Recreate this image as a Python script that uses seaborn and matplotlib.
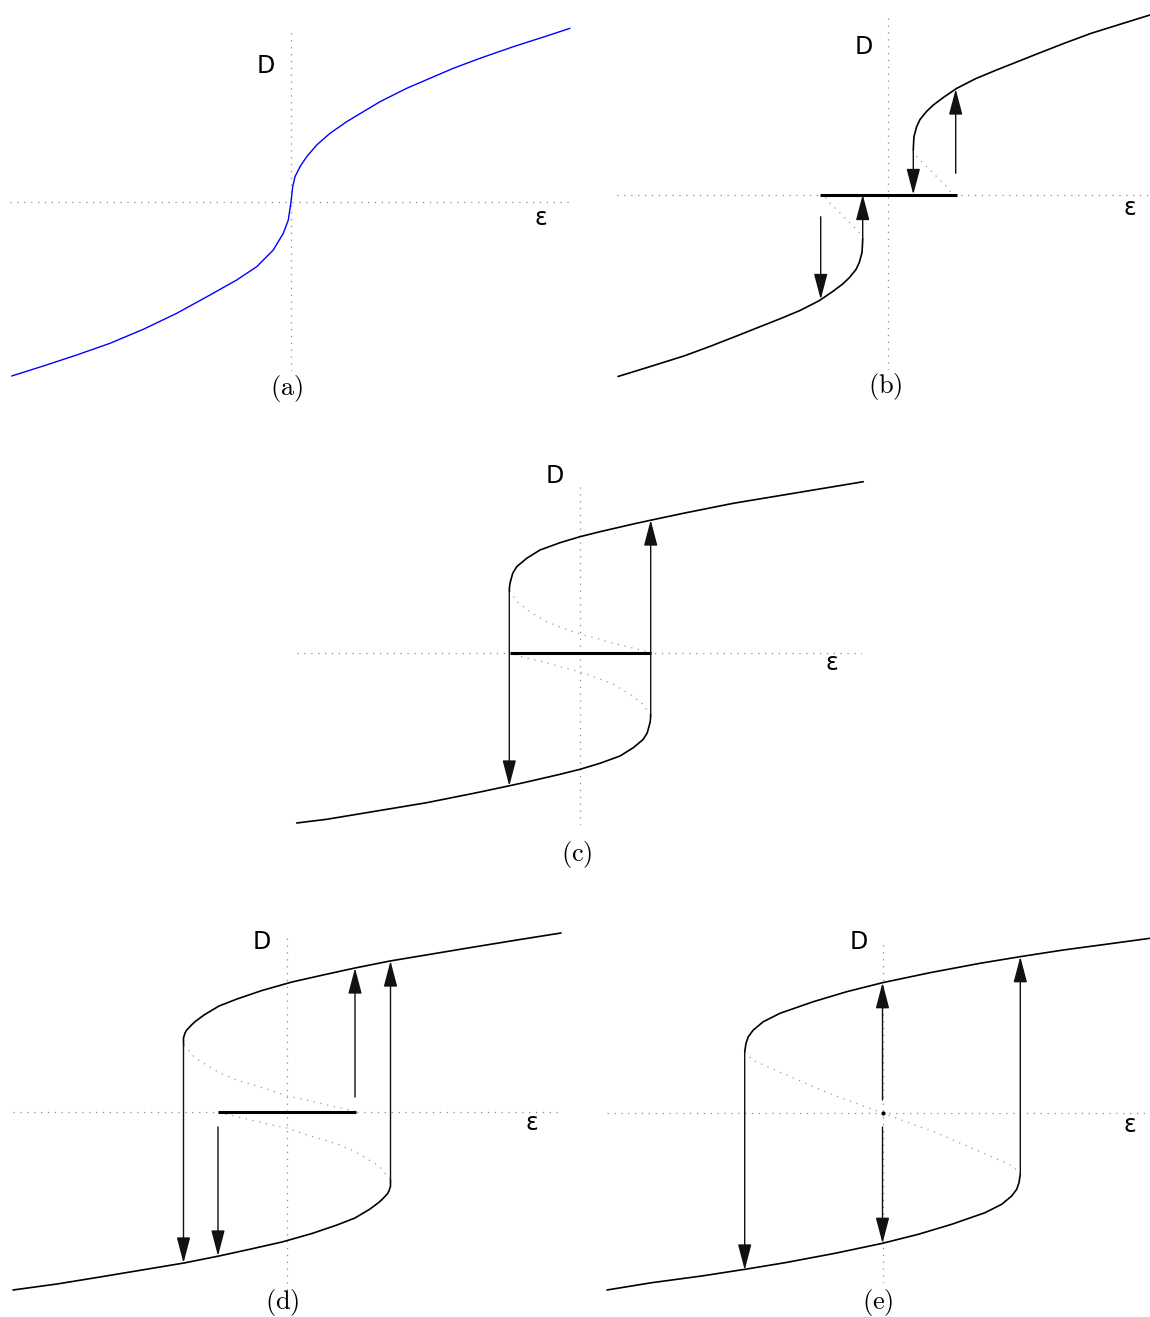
import matplotlib
matplotlib.use("Agg")
import matplotlib.pyplot as plt
import seaborn as sns

# ------------------------------------------------------------
#  values (units: eps and D, origin = axes cross)
# ------------------------------------------------------------

# (a) single valued curve
a_eps = [-2.793, -2.477, -2.143, -1.81, -1.477, -1.143, -0.81, -0.543, -0.343, -0.177, -0.077,
         -0.027, 0.0, 0.017, 0.04, 0.09, 0.157, 0.257, 0.39, 0.557, 0.723, 0.89, 1.157, 1.39,
         1.623, 1.89, 2.223, 2.557, 2.79]
a_D = [-1.74, -1.64, -1.53, -1.413, -1.273, -1.113, -0.93, -0.78, -0.647, -0.48, -0.313,
       -0.18, 0.0, 0.153, 0.253, 0.353, 0.453, 0.57, 0.687, 0.803, 0.903, 1.003, 1.137, 1.237,
       1.337, 1.437, 1.553, 1.66, 1.737]

# (b)
b_up_eps = [0.253, 0.255, 0.26, 0.287, 0.32, 0.387, 0.453, 0.553, 0.688, 0.88, 1.085, 1.30,
            1.506, 1.77, 2.032, 2.33, 2.62]
b_up_D = [0.445, 0.50, 0.58, 0.68, 0.75, 0.832, 0.895, 0.97, 1.062, 1.16, 1.245, 1.33,
          1.412, 1.515, 1.612, 1.705, 1.795]
b_lo_eps = [-0.253, -0.255, -0.26, -0.287, -0.32, -0.387, -0.453, -0.553, -0.688, -0.88, -1.085,
            -1.30, -1.506, -1.77, -2.032, -2.36, -2.70]
b_lo_D = [-0.445, -0.50, -0.58, -0.68, -0.75, -0.832, -0.895, -0.97, -1.062, -1.16, -1.245,
          -1.33, -1.412, -1.515, -1.612, -1.715, -1.82]
b_du_eps = [0.253, 0.287, 0.353, 0.437, 0.52, 0.587, 0.637, 0.66]
b_du_D = [0.445, 0.378, 0.312, 0.228, 0.145, 0.078, 0.012, 0.0]
b_dl_eps = [-0.253, -0.287, -0.353, -0.437, -0.52, -0.587, -0.637, -0.66]
b_dl_D = [-0.445, -0.378, -0.312, -0.228, -0.145, -0.078, -0.012, 0.0]
b_flat = [-0.685, 0.685]
b_arr_eps = [0.253, 0.677, -0.253, -0.673]
b_arr_from = [0.445, 0.212, -0.445, -0.222]
b_arr_to = [0.0, 1.055, 0.0, -1.05]

# (c)
c_up_eps = [-0.707, -0.705, -0.70, -0.673, -0.633, -0.533, -0.40, -0.20, 0.0, 0.20, 0.533,
            0.717, 1.033, 1.533, 2.033, 2.533, 2.833]
c_up_D = [0.62, 0.66, 0.697, 0.797, 0.863, 0.947, 1.03, 1.103, 1.163, 1.213, 1.29,
          1.33, 1.397, 1.497, 1.58, 1.663, 1.713]
c_lo_eps = [0.707, 0.705, 0.70, 0.673, 0.633, 0.533, 0.40, 0.20, 0.0, -0.20, -0.533,
            -0.717, -1.033, -1.533, -2.033, -2.533, -2.833]
c_lo_D = [-0.62, -0.66, -0.697, -0.797, -0.863, -0.947, -1.03, -1.103, -1.163, -1.213, -1.29,
          -1.33, -1.397, -1.497, -1.58, -1.663, -1.70]
c_du_eps = [-0.705, -0.693, -0.633, -0.50, -0.333, -0.167, 0.0, 0.167, 0.333, 0.50, 0.633, 0.705]
c_du_D = [0.62, 0.607, 0.513, 0.413, 0.313, 0.247, 0.19, 0.147, 0.097, 0.057, 0.023, 0.0]
c_dl_eps = [0.705, 0.693, 0.633, 0.50, 0.333, 0.167, 0.0, -0.167, -0.333, -0.50, -0.633, -0.705]
c_dl_D = [-0.62, -0.607, -0.513, -0.413, -0.313, -0.247, -0.19, -0.147, -0.097, -0.057, -0.023, 0.0]
c_flat = [-0.705, 0.705]
c_arr_eps = [-0.707, 0.707]
c_arr_from = [0.62, -0.62]
c_arr_to = [-1.33, 1.33]

# (d)
d_up_eps = [-1.035, -1.035, -1.02, -1.003, -0.96, -0.92, -0.83, -0.68, -0.50, -0.25, 0.05,
            0.36, 0.68, 1.03, 1.45, 1.87, 2.30, 2.74]
d_up_D = [0.68, 0.74, 0.79, 0.82, 0.865, 0.903, 0.97, 1.06, 1.13, 1.215, 1.30,
          1.37, 1.44, 1.51, 1.58, 1.65, 1.72, 1.79]
d_lo_eps = [1.035, 1.035, 1.02, 1.003, 0.96, 0.92, 0.83, 0.68, 0.50, 0.25, -0.05,
            -0.36, -0.68, -1.03, -1.45, -1.87, -2.30, -2.74]
d_lo_D = [-0.68, -0.74, -0.79, -0.82, -0.865, -0.903, -0.97, -1.06, -1.13, -1.215, -1.30,
          -1.37, -1.44, -1.51, -1.58, -1.65, -1.72, -1.78]
d_du_eps = [-1.03, -0.92, -0.67, -0.503, -0.337, -0.17, 0.0, 0.163, 0.33, 0.497, 0.663, 0.685]
d_du_D = [0.67, 0.54, 0.39, 0.32, 0.27, 0.22, 0.16, 0.127, 0.087, 0.047, 0.013, 0.0]
d_dl_eps = [1.03, 0.92, 0.67, 0.503, 0.337, 0.17, 0.0, -0.163, -0.33, -0.497, -0.663, -0.69]
d_dl_D = [-0.67, -0.54, -0.39, -0.32, -0.27, -0.22, -0.16, -0.127, -0.087, -0.047, -0.013, 0.0]
d_flat = [-0.69, 0.685]
d_arr_eps = [-1.035, -0.69, 0.68, 1.035]
d_arr_from = [0.68, -0.15, 0.15, -0.68]
d_arr_to = [-1.51, -1.44, 1.44, 1.51]

# (e)
e_up_eps = [-1.378, -1.375, -1.365, -1.342, -1.292, -1.192, -1.025, -0.692, -0.358, 0.0, 0.475,
            0.975, 1.375, 1.808, 2.308, 2.675]
e_up_D = [0.61, 0.63, 0.697, 0.763, 0.83, 0.913, 0.997, 1.113, 1.213, 1.303, 1.403,
          1.497, 1.563, 1.63, 1.697, 1.747]
e_lo_eps = [1.378, 1.375, 1.365, 1.342, 1.292, 1.192, 1.025, 0.692, 0.358, 0.0, -0.475,
            -0.975, -1.375, -1.808, -2.308, -2.755]
e_lo_D = [-0.61, -0.63, -0.697, -0.763, -0.83, -0.913, -0.997, -1.113, -1.213, -1.303, -1.403,
          -1.497, -1.563, -1.63, -1.697, -1.77]
e_dot_eps = [-1.378, -1.30, -1.075, -0.545, 0.0, 0.545, 1.075, 1.30, 1.378]
e_dot_D = [0.61, 0.53, 0.43, 0.20, 0.0, -0.20, -0.43, -0.53, -0.61]
e_arr_eps = [-1.378, 1.378, 0.0, 0.0]
e_arr_from = [0.61, -0.61, 0.13, -0.14]
e_arr_to = [-1.57, 1.563, 1.303, -1.303]

labels = ["(a)", "(b)", "(c)", "(d)", "(e)"]

# ------------------------------------------------------------
#  layout (pixels in the 1150 x 1317 picture)
# ------------------------------------------------------------
W, H = 1150, 1317
# origin x, origin y, left, right, top, bottom of the dotted axes
boxes = {
    "a": (291, 202, 10, 570, 32, 371),
    "b": (888, 194.5, 617, 1150, 15, 370),
    "c": (580, 653, 297, 862, 482, 825),
    "d": (287, 1112, 13, 560, 937, 1290),
    "e": (882.5, 1113, 607, 1150, 940, 1283),
}
# text positions relative to the origin, in pixels (dx, dy down)
d_label_pos = {"a": (-25, -136), "b": (-24, -147), "c": (-25, -177), "d": (-25, -170), "e": (-24, -171)}
e_label_pos = {"a": (250, 16), "b": (242, 13.5), "c": (252, 10), "d": (245, 11), "e": (247, 12)}
tag_pos = {"a": (-4, 186), "b": (-3, 192), "c": (-3, 202), "d": (-5, 191), "e": (-4.5, 190)}

sns.set_style("white")
plt.rcParams["font.family"] = ["DejaVu Sans"]
plt.rcParams["mathtext.fontset"] = "cm"

fig = plt.figure(figsize=(W / 100, H / 100), dpi=100)

AX_STYLE = dict(color="#8c8c8c", lw=0.9, ls=(0, (1, 4.5)))
DOT_STYLE = dict(color="#9a9a9a", lw=0.9, ls=(0, (1, 4.5)))


def make_axes(key):
    ox, oy, left, right, top, bottom = boxes[key]
    ax = fig.add_axes([left / W, 1 - bottom / H, (right - left) / W, (bottom - top) / H])
    ax.set_xlim((left - ox) / 100, (right - ox) / 100)
    ax.set_ylim((oy - bottom) / 100, (oy - top) / 100)
    ax.axis("off")
    ax.axhline(0, **AX_STYLE, zorder=1)
    ax.axvline(0, **AX_STYLE, zorder=1)
    dx, dy = d_label_pos[key]
    ax.text(dx / 100, -dy / 100, "D", fontsize=17, color="black", ha="center", va="center")
    dx, dy = e_label_pos[key]
    ax.text(dx / 100, -dy / 100, "ε", fontsize=17, color="black", ha="center", va="center")
    dx, dy = tag_pos[key]
    ax.text(dx / 100, -dy / 100, r"$\mathrm{" + labels["abcde".index(key)] + "}$",
            fontsize=19, color="black", ha="center", va="center")
    return ax


def curve(ax, x, y, color="black", lw=1.2):
    sns.lineplot(x=x, y=y, sort=False, estimator=None, color=color, lw=lw, ax=ax, legend=False)
    ax.lines[-1].set_clip_on(False)
    ax.lines[-1].set_solid_joinstyle("round")


def dotted(ax, x, y):
    sns.lineplot(x=x, y=y, sort=False, estimator=None, ax=ax, legend=False, **DOT_STYLE)
    ax.lines[-1].set_clip_on(False)


def arrows(ax, eps, frm, to):
    for e, f, t in zip(eps, frm, to):
        ax.annotate("", xy=(e, t), xytext=(e, f), annotation_clip=False,
                    arrowprops=dict(arrowstyle="-|>,head_length=1.6,head_width=0.42",
                                    color="#111111", lw=1.0, shrinkA=0, shrinkB=0,
                                    mutation_scale=10))


def flat(ax, xs):
    ax.plot(xs, [0, 0], color="black", lw=2.2, solid_capstyle="butt", zorder=4)


# (a)
ax = make_axes("a")
curve(ax, a_eps, a_D, color="#0000ff", lw=1.0)

# (b)
ax = make_axes("b")
curve(ax, b_up_eps, b_up_D)
curve(ax, b_lo_eps, b_lo_D)
dotted(ax, b_du_eps, b_du_D)
dotted(ax, b_dl_eps, b_dl_D)
flat(ax, b_flat)
arrows(ax, b_arr_eps, b_arr_from, b_arr_to)

# (c)
ax = make_axes("c")
curve(ax, c_up_eps, c_up_D)
curve(ax, c_lo_eps, c_lo_D)
dotted(ax, c_du_eps, c_du_D)
dotted(ax, c_dl_eps, c_dl_D)
flat(ax, c_flat)
arrows(ax, c_arr_eps, c_arr_from, c_arr_to)

# (d)
ax = make_axes("d")
curve(ax, d_up_eps, d_up_D)
curve(ax, d_lo_eps, d_lo_D)
dotted(ax, d_du_eps, d_du_D)
dotted(ax, d_dl_eps, d_dl_D)
flat(ax, d_flat)
arrows(ax, d_arr_eps, d_arr_from, d_arr_to)

# (e)
ax = make_axes("e")
curve(ax, e_up_eps, e_up_D)
curve(ax, e_lo_eps, e_lo_D)
dotted(ax, e_dot_eps, e_dot_D)
arrows(ax, e_arr_eps, e_arr_from, e_arr_to)
ax.plot([0], [0], marker="o", ms=2, color="black")

fig.savefig("out.png", dpi=100)
